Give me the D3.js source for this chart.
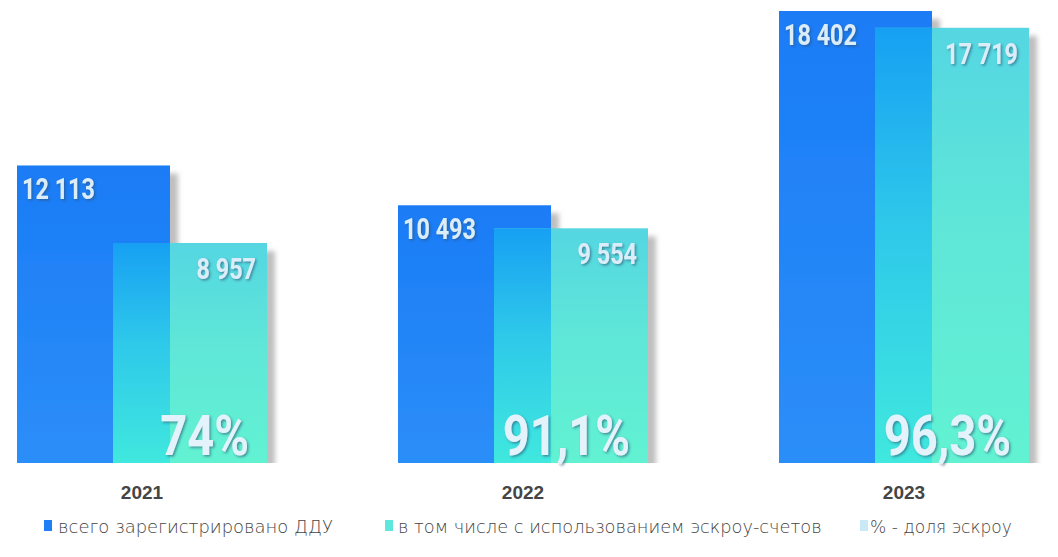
<!DOCTYPE html>
<html>
<head>
<meta charset="utf-8">
<script src="https://cdn.jsdelivr.net/npm/d3@7"></script>
<style>
  html, body { margin: 0; padding: 0; background: #ffffff; }
  svg { display: block; }
</style>
</head>
<body>
<svg id="chart" width="1058" height="557"></svg>
<script>
// ---- data ----
const years = ["2021", "2022", "2023"];
const totalDDU = [12113, 10493, 18402];
const escrowDDU = [8957, 9554, 17719];
const escrowShare = ["74%", "91,1%", "96,3%"];
const totalLabels = ["12 113", "10 493", "18 402"];
const escrowLabels = ["8 957", "9 554", "17 719"];
const legendLabels = ["всего зарегистрировано ДДУ", "в том числе с использованием эскроу-счетов", "% - доля эскроу"];

const W = 1058, H = 557;
const svg = d3.select("#chart");
const baseY = 463;

const x = d3.scalePoint().domain(years).range([142, 904]);
const y = d3.scaleLinear().domain([0, 18402]).range([baseY, 11]);

const blueL = -125, blueR = 28, tealL = -29, tealR = 125;

const defs = svg.append("defs");
const gBlue = defs.append("linearGradient").attr("id", "gBlue").attr("x1", 0).attr("y1", 0).attr("x2", 0).attr("y2", 1);
gBlue.append("stop").attr("offset", "0%").attr("stop-color", "#1a7cf6");
gBlue.append("stop").attr("offset", "100%").attr("stop-color", "#2c8ef8");

const gTeal = defs.append("linearGradient").attr("id", "gTeal").attr("x1", 0).attr("y1", 0).attr("x2", 0).attr("y2", 1);
gTeal.append("stop").attr("offset", "0%").attr("stop-color", "#55d6e2");
gTeal.append("stop").attr("offset", "45%").attr("stop-color", "#5ee6d8");
gTeal.append("stop").attr("offset", "100%").attr("stop-color", "#62f2d2");

const gOver = defs.append("linearGradient").attr("id", "gOver").attr("x1", 0).attr("y1", 0).attr("x2", 0).attr("y2", 1);
gOver.append("stop").attr("offset", "0%").attr("stop-color", "#17a0f3");
gOver.append("stop").attr("offset", "45%").attr("stop-color", "#2ec8ea");
gOver.append("stop").attr("offset", "100%").attr("stop-color", "#40e8de");

const shadow = defs.append("filter").attr("id", "shadow").attr("x", "-20%").attr("y", "-20%").attr("width", "150%").attr("height", "150%");
shadow.append("feDropShadow").attr("dx", 8).attr("dy", 8).attr("stdDeviation", 2.5)
  .attr("flood-color", "#8a8a8a").attr("flood-opacity", 0.55);

const txtShadow = defs.append("filter").attr("id", "tshadow").attr("x", "-20%").attr("y", "-20%").attr("width", "150%").attr("height", "150%");
txtShadow.append("feDropShadow").attr("dx", 1.5).attr("dy", 1.5).attr("stdDeviation", 1)
  .attr("flood-color", "#2a5070").attr("flood-opacity", 0.6);

defs.append("clipPath").attr("id", "clipBase").append("rect")
  .attr("x", 0).attr("y", 0).attr("width", W).attr("height", baseY);

const bars = svg.append("g").attr("clip-path", "url(#clipBase)");

years.forEach((yr, i) => {
  const cx = x(yr);
  const g = bars.append("g");
  g.append("rect")
    .attr("x", cx + blueL).attr("y", y(totalDDU[i]))
    .attr("width", blueR - blueL).attr("height", baseY - y(totalDDU[i]))
    .attr("fill", "url(#gBlue)").attr("filter", "url(#shadow)");
  g.append("rect")
    .attr("x", cx + tealL).attr("y", y(escrowDDU[i]))
    .attr("width", tealR - tealL).attr("height", baseY - y(escrowDDU[i]))
    .attr("fill", "url(#gTeal)").attr("filter", "url(#shadow)");
  const top = Math.max(y(escrowDDU[i]), y(totalDDU[i]));
  g.append("rect")
    .attr("x", cx + tealL).attr("y", top)
    .attr("width", blueR - tealL).attr("height", baseY - top)
    .attr("fill", "url(#gOver)");
});

const numFont = "Roboto, 'Liberation Sans', sans-serif";
const labels = svg.append("g").attr("font-family", numFont).attr("font-weight", "bold")
  .attr("fill", "#dcedfa").attr("filter", "url(#tshadow)");

years.forEach((yr, i) => {
  const cx = x(yr);
  labels.append("text")
    .attr("transform", `translate(${cx + blueL + 5},${y(totalDDU[i]) + 34}) scale(0.78,1)`)
    .attr("font-size", 30).attr("text-anchor", "start")
    .text(totalLabels[i]);
  labels.append("text")
    .attr("transform", `translate(${cx + tealR - 11},${y(escrowDDU[i]) + 36}) scale(0.78,1)`)
    .attr("font-size", 30).attr("text-anchor", "end")
    .text(escrowLabels[i]);
  labels.append("text")
    .attr("transform", `translate(${cx + tealR - 18},455) scale(0.84,1)`)
    .attr("font-size", 56).attr("text-anchor", "end").attr("fill", "#e4f3fb")
    .text(escrowShare[i]);
});

// year labels
svg.append("g").selectAll("text").data(years).join("text")
  .attr("x", d => x(d)).attr("y", 499)
  .attr("text-anchor", "middle")
  .attr("font-family", "'Liberation Sans', Arial, sans-serif")
  .attr("font-weight", "bold").attr("font-size", 19)
  .attr("fill", "#454545")
  .text(d => d);

// legend
const legend = svg.append("g").attr("font-family", "'DejaVu Sans', sans-serif")
  .attr("font-weight", 200).attr("fill", "#444");
const legX = [44, 385, 860];
const legTextX = [58, 398, 870];
const legTarget = [275, 424, 142];
const legColor = ["#1f80f5", "#5ee8dc", "#c9e9f6"];
legendLabels.forEach((t, i) => {
  legend.append("rect").attr("x", legX[i]).attr("y", 520).attr("width", 8).attr("height", 11)
    .attr("fill", legColor[i]);
  const tx = legend.append("text").attr("x", legTextX[i]).attr("y", 533)
    .attr("font-size", 16).text(t);
  const w = tx.node().getComputedTextLength();
  const fs = Math.max(13, Math.min(19, 16 * legTarget[i] / w));
  tx.attr("font-size", fs);
});
</script>
</body>
</html>
